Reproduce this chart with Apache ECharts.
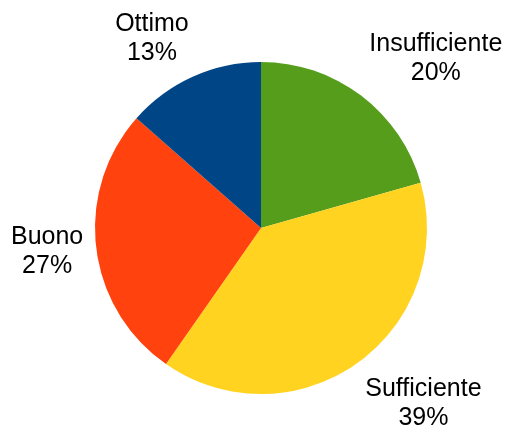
<!DOCTYPE html>
<html><head><meta charset="utf-8">
<script src="https://cdn.jsdelivr.net/npm/echarts@6/dist/echarts.min.js"></script>
<style>html,body{margin:0;padding:0;background:#fff}#c{width:508px;height:432px}</style>
</head><body><div id="c"></div>
<script>
const categories = ['Insufficiente', 'Sufficiente', 'Buono', 'Ottimo'];
const values = [20.6, 39.1, 26.8, 13.5];
const percentLabels = ['20%', '39%', '27%', '13%'];
const colors = ['#579d1c', '#ffd320', '#ff420e', '#004586'];

const CX = 261, CY = 228, R = 166, LABEL_GAP = 12, TEXT_SHIFT_Y = 2;
const total = values.reduce((a, b) => a + b, 0);

function midDir(i) {
  let before = 0;
  for (let k = 0; k < i; k++) before += values[k];
  const theta = (before + values[i] / 2) / total * 2 * Math.PI; // clockwise from top
  return [Math.sin(theta), -Math.cos(theta)];
}

const chart = echarts.init(document.getElementById('c'), null, {renderer: 'canvas'});
chart.setOption({
  animation: false,
  color: colors,
  series: [{
    type: 'pie',
    center: [CX, CY],
    radius: R,
    startAngle: 90,
    clockwise: true,
    avoidLabelOverlap: false,
    data: categories.map((c, i) => ({name: c, value: values[i]})),
    itemStyle: {borderWidth: 0},
    emphasis: {disabled: true},
    label: {
      show: true,
      position: 'outside',
      formatter: p => p.name + '\n' + percentLabels[p.dataIndex],
      fontFamily: 'Liberation Sans',
      fontSize: 25,
      lineHeight: 29,
      color: '#000'
    },
    labelLine: {show: false, length: 10, length2: 0},
    labelLayout: function (p) {
      const [dx, dy] = midDir(p.dataIndex);
      const d = R + LABEL_GAP;
      const px = CX + dx * d, py = CY + dy * d;
      const w = p.labelRect.width, h = p.labelRect.height;
      const ox = Math.abs(dx) < 0.3 ? 0 : Math.sign(dx) * w / 2;
      const oy = Math.abs(dy) < 0.3 ? 0 : Math.sign(dy) * h / 2;
      return {x: px + ox + (dx < 0 && Math.abs(dy) < 0.3 ? -1 : 1), y: py + oy + TEXT_SHIFT_Y, align: 'center', verticalAlign: 'middle'};
    }
  }]
});
</script></body></html>
